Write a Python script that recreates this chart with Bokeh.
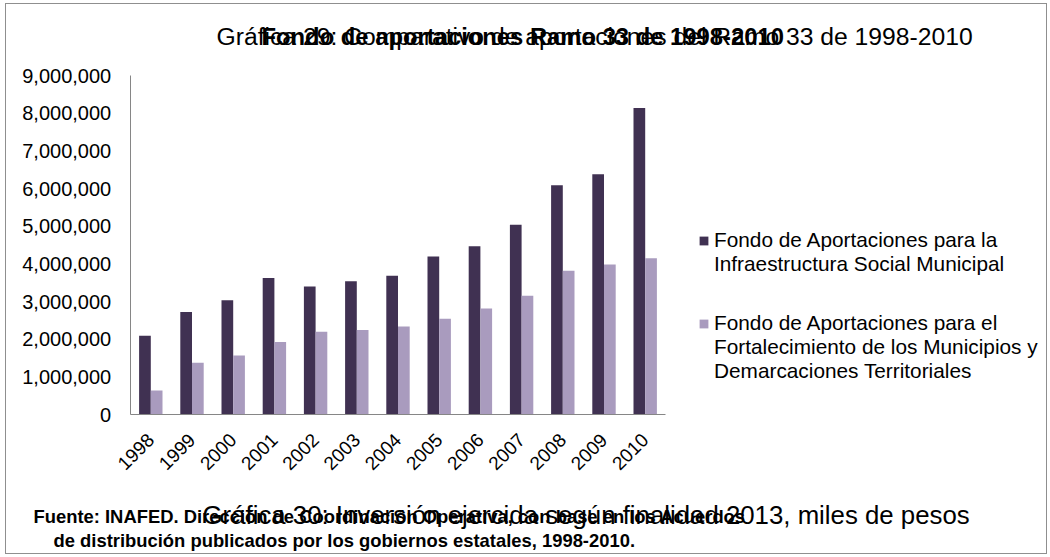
import math
import numpy as np
from bokeh.plotting import figure
from bokeh.models import (ColumnDataSource, Range1d, FixedTicker, LinearAxis,
                          NumeralTickFormatter, Label, Legend, LegendItem)
from bokeh.embed import file_html
from bokeh.resources import INLINE

# ---------------- data ----------------
years = ["1998", "1999", "2000", "2001", "2002", "2003", "2004",
         "2005", "2006", "2007", "2008", "2009", "2010"]
fism = [2100000, 2730000, 3040000, 3630000, 3400000, 3540000, 3690000,
        4200000, 4470000, 5040000, 6090000, 6380000, 8140000]
fortamun = [645000, 1380000, 1570000, 1930000, 2200000, 2250000, 2340000,
            2550000, 2820000, 3160000, 3820000, 3990000, 4150000]
y_ticks = [0, 1000000, 2000000, 3000000, 4000000, 5000000,
           6000000, 7000000, 8000000, 9000000]
series1_lines = ["Fondo de Aportaciones para la", "Infraestructura Social Municipal"]
series2_lines = ["Fondo de Aportaciones para el",
                 "Fortalecimiento de los Municipios y",
                 "Demarcaciones Territoriales"]
title_under = "Gráfica 29: Comparativo de aportaciones del Ramo 33 de 1998-2010"
title_bold = "Fondo de aportaciones Ramo 33 de 1998-2010"
caption_under = "Gráfica 30: Inversión ejercida según finalidad 2013, miles de pesos"
source_line1 = "Fuente: INAFED. Dirección de Coordinación Operativa, con base en los Acuerdos"
source_line2 = "de distribución publicados por los gobiernos estatales, 1998-2010."

DARK = "#403152"
LIGHT = "#A99BBE"
AXIS = "#868686"
FONT = "Liberation Sans"

# ---------------- layout (page pixels) ----------------
W, H = 1042, 551
OX, OY = 6, 4                     # canvas origin on the page (margin + border)
AX_L, AX_T, AX_R, AX_B = 129.7, 75.0, 665.3, 414.3   # axes box on the page
YMAX = 9000000
ncat = len(years)
cat_px = (AX_R - AX_L) / ncat
val_px = YMAX / (AX_B - AX_T)
BASE_FIX = 0.35   # empirical shift of the alphabetic baseline (in em)


def dx(px):
    return (px - AX_L) / cat_px


def dy(py):
    return (AX_B - py) * val_px


xc = np.arange(ncat) + 0.5
src = ColumnDataSource(dict(x1=xc - 0.142, x2=xc + 0.142, fism=fism, fortamun=fortamun))

p = figure(width=W, height=H,
           x_range=Range1d(dx(OX), dx(OX + W)), y_range=Range1d(dy(OY + H), dy(OY)),
           output_backend="svg", toolbar_location=None,
           x_axis_location=None, y_axis_location=None, min_border=0)
p.styles = {"border": "1px solid #8f8f8f", "margin-left": "5px", "margin-top": "3px"}
p.outline_line_color = None
p.grid.visible = False
p.background_fill_color = "white"
p.border_fill_color = "white"

r1 = p.vbar(x="x1", top="fism", width=0.284, source=src, fill_color=DARK, line_color=None)
r2 = p.vbar(x="x2", top="fortamun", width=0.284, source=src, fill_color=LIGHT, line_color=None)
blank = p.vbar(x=[], top=[], width=0.1, fill_alpha=0, line_alpha=0)

# axes
yax = LinearAxis(ticker=FixedTicker(ticks=y_ticks),
                 formatter=NumeralTickFormatter(format="0,0"),
                 fixed_location=0, bounds=(0, YMAX))
xax = LinearAxis(ticker=FixedTicker(ticks=[float(v) for v in xc]),
                 major_label_overrides={float(v): yr for v, yr in zip(xc, years)},
                 fixed_location=0, bounds=(0, ncat))
for ax in (xax, yax):
    ax.axis_line_color = AXIS
    ax.major_tick_line_color = None
    ax.minor_tick_line_color = None
    ax.major_tick_out = 0
    ax.major_tick_in = 0
    ax.major_label_text_font = FONT
    ax.major_label_text_color = "black"
yax.major_label_text_font_size = "20px"
yax.major_label_standoff = 19
xax.major_label_text_font_size = "19px"
xax.major_label_orientation = math.pi / 4
xax.major_label_standoff = 22
p.add_layout(yax, "left")
p.add_layout(xax, "below")


# legends
def make_legend(lines, rend, top_px, line_h):
    items = [LegendItem(label=lines[0], renderers=[rend])]
    items += [LegendItem(label=t, renderers=[blank]) for t in lines[1:]]
    h = line_h * len(lines)
    return Legend(items=items,
                  location=(round(698 - OX), round((OY + H) - (top_px + h))),
                  border_line_color=None, background_fill_alpha=0,
                  padding=0, margin=0, spacing=0, glyph_width=11, glyph_height=11,
                  label_standoff=5, label_height=line_h,
                  label_text_font=FONT, label_text_font_size="20.8px",
                  label_text_color="black")


p.add_layout(make_legend(series1_lines, r1, 230, 23))
p.add_layout(make_legend(series2_lines, r2, 311, 24))


# texts
def add_text(txt, left_px, base_px, size, style="normal"):
    p.add_layout(Label(x=dx(left_px), y=dy(base_px - BASE_FIX * size), text=txt,
                       text_font=FONT, text_font_size=f"{size}px",
                       text_font_style=style, text_color="black",
                       text_align="left", text_baseline="alphabetic"))


add_text(title_under, 216, 45, 24.7)
add_text(title_bold, 261, 44.5, 23.8, "bold")
add_text(caption_under, 202, 523.5, 25.8)
add_text(source_line1, 33, 522.5, 18.4, "bold")
add_text(source_line2, 53, 546.5, 18.4, "bold")

open("out.html", "w").write(file_html(p, INLINE))
